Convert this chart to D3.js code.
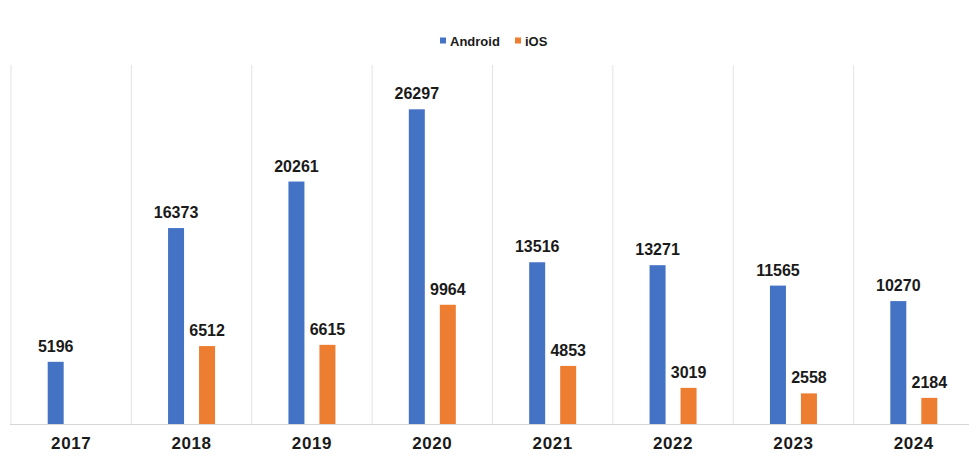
<!DOCTYPE html>
<html>
<head>
<meta charset="utf-8">
<script src="https://cdn.jsdelivr.net/npm/d3@7"></script>
<style>
  body { margin: 0; background: #fff; }
  text { font-family: "Liberation Sans", Arial, sans-serif; font-weight: bold; fill: #1a1a1a; }
</style>
</head>
<body>
<div id="canvas"></div>
<script>
var w = 969;
var h = 468;

var years = ["2017", "2018", "2019", "2020", "2021", "2022", "2023", "2024"];
var series = ["Android", "iOS"];
var android = [5196, 16373, 20261, 26297, 13516, 13271, 11565, 10270];
var ios = [null, 6512, 6615, 9964, 4853, 3019, 2558, 2184];
var colors = ["#4472C4", "#ED7D31"];

var svg = d3.select("#canvas").append("svg")
        .attr("width", w)
        .attr("height", h)
        .style("background-color", "#fff");

// layout (note: "top" is a reserved window name, so use plot* names)
var plotLeft = 11, plotRight = 974, plotTop = 65, plotBottom = 424;

var xScale = d3.scaleBand()
        .domain(years)
        .range([plotLeft, plotRight]);

var yScale = d3.scaleLinear()
        .domain([0, 30000])
        .range([plotBottom, plotTop]);

var bw = xScale.bandwidth();
var x1 = d3.scaleBand()
        .domain(series)
        .range([bw / 2 - 31, bw / 2 + 31])
        .paddingInner(0.484)
        .paddingOuter(0.242);

// vertical separators between categories
svg.selectAll("line.sep")
    .data(years)
    .join("line")
    .attr("class", "sep")
    .attr("x1", function(d){ return xScale(d); })
    .attr("x2", function(d){ return xScale(d); })
    .attr("y1", plotTop)
    .attr("y2", plotBottom)
    .attr("stroke", "#e3e3e3")
    .attr("stroke-width", 1);

// baseline
svg.append("line")
    .attr("x1", plotLeft - 1)
    .attr("x2", w)
    .attr("y1", plotBottom + 0.5)
    .attr("y2", plotBottom + 0.5)
    .attr("stroke", "#d6d6d6")
    .attr("stroke-width", 1);

// build rows from the arrays
var rows = [];
years.forEach(function(y, i){
  rows.push({year: y, s: "Android", v: android[i], c: colors[0]});
  if (ios[i] !== null) rows.push({year: y, s: "iOS", v: ios[i], c: colors[1]});
});

svg.selectAll("rect.bar")
    .data(rows)
    .join("rect")
    .attr("class", "bar")
    .attr("x", function(d){ return xScale(d.year) + x1(d.s); })
    .attr("y", function(d){ return yScale(d.v); })
    .attr("width", x1.bandwidth())
    .attr("height", function(d){ return plotBottom - yScale(d.v); })
    .attr("fill", function(d){ return d.c; });

svg.selectAll("text.val")
    .data(rows)
    .join("text")
    .attr("class", "val")
    .attr("x", function(d){ return xScale(d.year) + x1(d.s) + x1.bandwidth() / 2; })
    .attr("y", function(d){ return yScale(d.v) - 10; })
    .attr("text-anchor", "middle")
    .style("font-size", "16px")
    .text(function(d){ return d.v; });

// category axis
var xAxis = d3.axisBottom(xScale).tickSize(0).tickPadding(0);
var gx = svg.append("g")
    .attr("transform", "translate(0," + plotBottom + ")")
    .call(xAxis);
gx.select(".domain").remove();
gx.selectAll("text")
    .attr("dy", null)
    .attr("y", 25)
    .style("font-size", "17px")
    .style("letter-spacing", "0.6px")
    .style("font-family", "'Liberation Sans', Arial, sans-serif")
    .style("font-weight", "bold")
    .attr("fill", "#1a1a1a");

// legend
var legendX = [440, 515];
var lg = svg.selectAll("g.legend")
    .data(series)
    .join("g")
    .attr("class", "legend")
    .attr("transform", function(d, i){ return "translate(" + legendX[i] + ",0)"; });
lg.append("rect")
    .attr("x", 0)
    .attr("y", 37.5)
    .attr("width", 6)
    .attr("height", 6)
    .attr("fill", function(d, i){ return colors[i]; });
lg.append("text")
    .attr("x", 10)
    .attr("y", 46)
    .style("font-size", "13px")
    .text(function(d){ return d; });
</script>
</body>
</html>
